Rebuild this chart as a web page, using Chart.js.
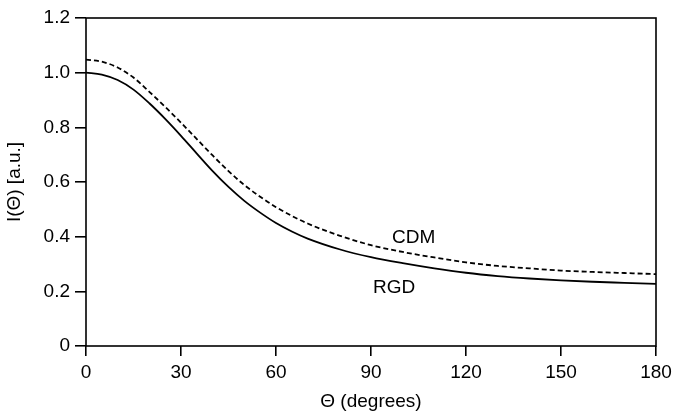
<!DOCTYPE html>
<html>
<head>
<meta charset="utf-8">
<script src="https://cdn.jsdelivr.net/npm/chart.js@4/dist/chart.umd.min.js"></script>
<style>
  html, body { margin: 0; padding: 0; background: white; }
  #wrap { width: 691px; height: 414px; }
</style>
</head>
<body>
<div id="wrap"><canvas id="chart1"></canvas></div>
<script>
// angles in degrees
var angles = [0, 5, 10, 15, 20, 25, 30, 35, 40, 45, 50, 55, 60, 65, 70, 80, 90, 100, 110, 120, 130, 140, 150, 160, 170, 180];
// intensities
var rgd = [1.000, 0.993, 0.973, 0.938, 0.888, 0.831, 0.769, 0.704, 0.640, 0.582, 0.531, 0.488, 0.450, 0.419, 0.393, 0.354, 0.325, 0.303, 0.284, 0.268, 0.256, 0.247, 0.240, 0.235, 0.231, 0.227];
var cdm = [1.048, 1.040, 1.019, 0.982, 0.930, 0.875, 0.817, 0.757, 0.697, 0.640, 0.589, 0.546, 0.508, 0.476, 0.448, 0.404, 0.369, 0.344, 0.324, 0.306, 0.293, 0.284, 0.276, 0.271, 0.267, 0.263];
var x_ticks = [0, 30, 60, 90, 120, 150, 180];
var y_ticks = [0, 0.2, 0.4, 0.6, 0.8, 1.0, 1.2];

// curve labels (data coordinates)
var label_names = ["CDM", "RGD"];
var label_x = [103.5, 97.3];
var label_y = [0.396, 0.213];

const font_family = "'Liberation Sans', Arial, Helvetica, sans-serif";

function to_points(xs, ys) {
  return xs.map((x, i) => ({x: x, y: ys[i]}));
}

const frame_plugin = {
  id: 'frame',
  afterDraw(chart) {
    const ctx = chart.ctx;
    const a = chart.chartArea;
    ctx.save();
    ctx.strokeStyle = '#000';
    ctx.lineWidth = 1.6;
    ctx.strokeRect(a.left, a.top, a.right - a.left, a.bottom - a.top);
    ctx.restore();
  }
};

const label_plugin = {
  id: 'curveLabels',
  afterDatasetsDraw(chart) {
    const ctx = chart.ctx;
    const xs = chart.scales.x;
    const ys = chart.scales.y;
    ctx.save();
    ctx.fillStyle = '#000';
    ctx.font = "19px " + font_family;
    ctx.textAlign = 'center';
    ctx.textBaseline = 'middle';
    for (var i = 0; i < label_names.length; i++) {
      ctx.fillText(label_names[i], xs.getPixelForValue(label_x[i]), ys.getPixelForValue(label_y[i]));
    }
    ctx.restore();
  }
};

const config = {
  type: 'line',
  data: {
    datasets: [{
      label: 'RGD',
      data: to_points(angles, rgd),
      borderColor: '#000',
      borderWidth: 1.8,
      pointRadius: 0,
      cubicInterpolationMode: 'monotone',
      fill: false
    }, {
      label: 'CDM',
      data: to_points(angles, cdm),
      borderColor: '#000',
      borderWidth: 1.8,
      borderDash: [5, 3],
      pointRadius: 0,
      cubicInterpolationMode: 'monotone',
      fill: false
    }]
  },
  options: {
    responsive: true,
    maintainAspectRatio: false,
    animation: false,
    layout: { padding: { top: 18, right: 35, left: 0, bottom: 0 } },
    plugins: { legend: { display: false }, tooltip: { enabled: false } },
    scales: {
      x: {
        type: 'linear',
        min: 0,
        max: 180,
        afterBuildTicks: (scale) => { scale.ticks = x_ticks.map(v => ({value: v})); },
        afterFit: (scale) => { scale.height = 68; },
        border: { display: false },
        grid: { drawOnChartArea: false, color: '#000', lineWidth: 1.6, tickLength: 10 },
        ticks: { color: '#000', padding: 5, maxRotation: 0, font: { size: 19, family: font_family } },
        title: { display: true, text: 'Θ (degrees)', color: '#000', padding: { top: 0, bottom: 1 },
                 font: { size: 19, family: font_family } }
      },
      y: {
        min: 0,
        max: 1.2,
        afterBuildTicks: (scale) => { scale.ticks = y_ticks.map(v => ({value: v})); },
        afterFit: (scale) => { scale.width = 86; },
        border: { display: false },
        grid: { drawOnChartArea: false, color: '#000', lineWidth: 1.6, tickLength: 11 },
        ticks: { color: '#000', padding: 5, font: { size: 19, family: font_family },
                 callback: (v) => v === 0 ? '0' : v.toFixed(1) },
        title: { display: true, text: 'I(Θ) [a.u.]', color: '#000', padding: { top: 3, bottom: 0 },
                 font: { size: 19, family: font_family } }
      }
    }
  },
  plugins: [frame_plugin, label_plugin]
};

new Chart(document.getElementById('chart1'), config);
</script>
</body>
</html>
